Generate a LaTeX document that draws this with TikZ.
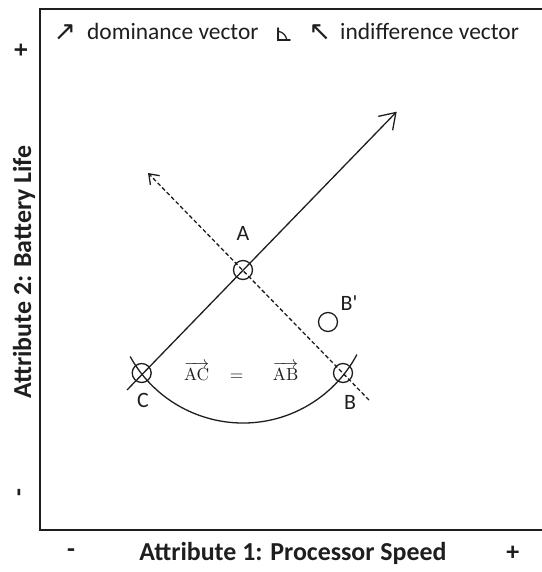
\documentclass[tikz,border=0pt]{standalone}
\usepackage{amsmath}
\usepackage[no-math]{fontspec}
\setmainfont{Carlito}
\newfontfamily\symfont{DejaVu Sans}
\usetikzlibrary{arrows.meta}
\definecolor{ink}{HTML}{1E1E1E}
\begin{document}
\begin{tikzpicture}[x=1bp,y=-1bp,
  frame/.style={line width=1.5bp, draw=ink},
  vec/.style={line width=1.3bp, draw=ink},
  indvec/.style={vec, dash pattern=on 4bp off 2.5bp},
  pt/.style={circle, draw=ink, line width=1.3bp, minimum size=19bp, inner sep=0pt},
  lbl/.style={font=\fontsize{22}{26}\selectfont, text=ink, inner sep=0pt},
  mth/.style={font=\fontsize{10}{12}\selectfont, text=ink, inner sep=0pt, scale=1.75, transform shape},
  legtxt/.style={font=\fontsize{23.5}{28}\selectfont, text=ink, inner sep=0pt},
  legsym/.style={font=\symfont\fontsize{27}{30}\selectfont, text=ink, inner sep=0pt},
  axl/.style={font=\bfseries\fontsize{26}{31}\selectfont, text=ink, inner sep=0pt}]
\useasboundingbox (0,0) rectangle (542,572);
% frame
\draw[frame] (542,9) -- (40,9) -- (40,530) -- (542,530);
% points
\node[pt] (A) at (243,270) {};
\node[pt] (C) at (141.7,373) {};
\node[pt] (B) at (343,373) {};
\node[pt] (Bp) at (328,322) {};
% vectors
\coordinate (domS) at (127,390);
\coordinate (domE) at (396.7,111.7);
\coordinate (indS) at (369,400);
\coordinate (indE) at (148,173);
\draw[vec, -{Straight Barb[length=15bp,width=20bp]}] (domS) -- (domE);
\draw[indvec, -{Straight Barb[length=9bp,width=13bp]}] (indS) -- (indE);
% arc
\coordinate (arcc) at (243,294);
\draw[vec] ([shift={(151:129)}]arcc) arc[start angle=151,end angle=28,radius=129];
% labels
\node[lbl] (lA) at (243,233) {A};
\node[lbl] (lC) at (143,400) {C};
\node[lbl] (lB) at (350,402) {B};
\node[lbl] (lBp) at (349,303) {B\textquotesingle};
\node[mth] (eqAC) at (196.7,371) {$\overrightarrow{\mathrm{AC}}$};
\node[mth] (eqs) at (236.7,377) {$=$};
\node[mth] (eqAB) at (285.7,371) {$\overrightarrow{\mathrm{AB}}$};
% legend
\node[legsym] (lg1) at (65,33) {↗};
\node[legtxt, anchor=base west] (lg2) at (87,39.5) {dominance vector};
\node[legsym, font=\symfont\fontsize{24}{28}\selectfont] (lg3) at (284,35) {⊾};
\node[legsym] (lg4) at (320,33) {↖};
\node[legtxt, anchor=base west] (lg5) at (340,39.5) {indifference vector};
% axes
\node[axl, rotate=90, anchor=base] (ylab) at (31,272) {Attribute 2: Battery Life};
\node[axl, rotate=90] (yplus) at (22,50) {+};
\node[axl, rotate=90] (yminus) at (22,493) {-};
\node[axl, anchor=base] (xlab) at (293,560) {Attribute 1: Processor Speed};
\node[axl] (xminus) at (71,553) {-};
\node[axl] (xplus) at (512.7,553) {+};
\end{tikzpicture}
\end{document}
